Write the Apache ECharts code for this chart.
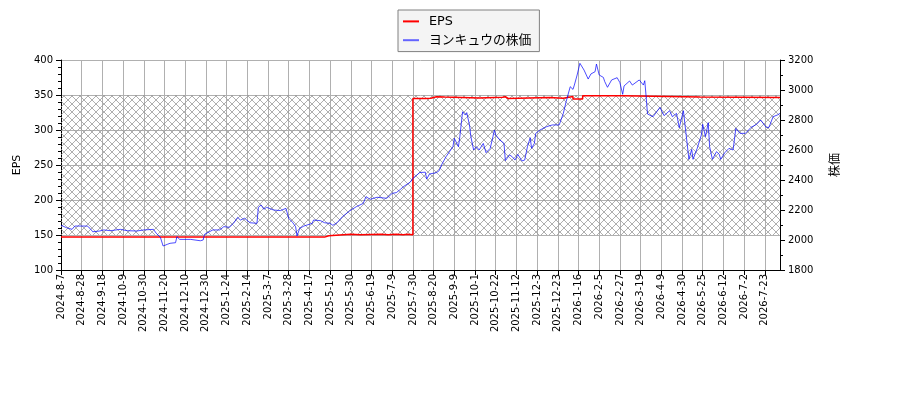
<!DOCTYPE html>
<html>
<head>
<meta charset="utf-8">
<script src="https://cdn.jsdelivr.net/npm/echarts@6/dist/echarts.min.js"></script>
<style>
  html, body {margin: 0; padding: 0; background: #fff;}
  #chart {width: 900px; height: 400px;}
</style>
</head>
<body>
<div id="chart"></div>
<script>
// x軸ラベル (15営業日ごと)
var dateLabels = [
    '2024-8-7', '2024-8-28', '2024-9-18', '2024-10-9', '2024-10-30',
    '2024-11-20', '2024-12-10', '2024-12-30', '2025-1-24', '2025-2-14',
    '2025-3-7', '2025-3-28', '2025-4-17', '2025-5-12', '2025-5-30',
    '2025-6-19', '2025-7-9', '2025-7-30', '2025-8-20', '2025-9-9',
    '2025-10-1', '2025-10-22', '2025-11-12', '2025-12-3', '2025-12-23',
    '2026-1-16', '2026-2-5', '2026-2-27', '2026-3-19', '2026-4-9',
    '2026-4-30', '2026-5-25', '2026-6-12', '2026-7-2', '2026-7-23'
];
var labelStep = 15;
var lastIndex = 521;

// EPS [営業日index, 値]
var epsData = [
    [0, 147], [191, 149], [194, 151], [210, 150.3], [217, 151], [232, 150.3],
    [237, 151], [243, 150.3], [248, 151], [251, 150.3], [255, 345], [264, 345.3],
    [268, 347.6], [272, 347], [278, 345.7], [303, 346.7], [320, 347.6], [322, 345],
    [324, 346.5], [354, 345.5], [364, 348], [371, 344.3], [378, 349], [407, 347],
    [463, 346.5], [521, 346.5]
];

// 株価 [営業日index, 値]
var priceData = [
    [0, 2098], [4, 2082], [8, 2071], [10, 2093], [19, 2093], [21, 2078], [23, 2055],
    [28, 2060], [31, 2067], [36, 2062], [43, 2071], [48, 2062], [55, 2060], [60, 2067],
    [67, 2071], [69, 2045], [72, 2018], [74, 1960], [77, 1971], [79, 1978], [83, 1982],
    [84, 2022], [86, 2004], [94, 2004], [101, 1995], [103, 2000], [104, 2038], [110, 2067],
    [115, 2067], [118, 2089], [122, 2085], [125, 2111], [128, 2151], [130, 2133], [133, 2145],
    [137, 2115], [142, 2111], [143, 2218], [145, 2233], [147, 2205], [149, 2218], [154, 2200],
    [159, 2196], [163, 2211], [165, 2145], [168, 2115], [170, 2089], [171, 2027], [173, 2078],
    [176, 2093], [182, 2111], [183, 2133], [188, 2129], [191, 2115], [195, 2111], [197, 2098],
    [200, 2115], [204, 2156], [209, 2193], [214, 2222], [219, 2244], [221, 2289], [224, 2271],
    [229, 2285], [236, 2278], [240, 2311], [243, 2316], [246, 2338], [248, 2355], [253, 2385],
    [255, 2411], [260, 2450], [264, 2452], [265, 2406], [267, 2440], [272, 2449], [274, 2462],
    [276, 2505], [279, 2555], [284, 2622], [285, 2678], [288, 2622], [289, 2689], [291, 2855],
    [293, 2833], [294, 2849], [296, 2767], [297, 2689], [299, 2600], [301, 2622], [303, 2600],
    [306, 2644], [308, 2582], [311, 2611], [313, 2689], [314, 2733], [315, 2700], [318, 2667],
    [321, 2644], [322, 2529], [325, 2567], [327, 2555], [329, 2533], [331, 2571], [334, 2527],
    [336, 2533], [338, 2622], [340, 2682], [341, 2611], [343, 2644], [344, 2711], [347, 2733],
    [352, 2756], [356, 2767], [361, 2767], [364, 2844], [366, 2922], [369, 3022], [371, 3004],
    [372, 3033], [374, 3100], [376, 3178], [377, 3182], [379, 3133], [382, 3073], [384, 3107],
    [387, 3122], [388, 3173], [390, 3100], [393, 3084], [394, 3056], [396, 3018], [399, 3067],
    [403, 3082], [405, 3049], [407, 2971], [408, 3027], [412, 3060], [414, 3033], [419, 3067],
    [422, 3033], [423, 3062], [424, 2956], [425, 2840], [429, 2822], [434, 2884], [437, 2829],
    [441, 2862], [443, 2822], [446, 2844], [448, 2749], [451, 2862], [453, 2700], [455, 2538],
    [457, 2604], [458, 2538], [461, 2611], [464, 2700], [465, 2771], [467, 2689], [469, 2782],
    [470, 2622], [472, 2538], [475, 2589], [477, 2571], [478, 2538], [481, 2582], [484, 2611],
    [487, 2600], [489, 2744], [492, 2711], [496, 2711], [500, 2751], [504, 2771], [507, 2800],
    [511, 2751], [513, 2751], [516, 2822], [519, 2833], [521, 2844]
];

// EPSの範囲 (ハッチング)
var bandRange = [150, 350];

// クロスハッチのパターン
function makeHatch() {
    var c = document.createElement('canvas');
    c.width = 8;
    c.height = 8;
    var ctx = c.getContext('2d');
    ctx.strokeStyle = '#9a9a9a';
    ctx.lineWidth = 0.8;
    ctx.beginPath();
    ctx.moveTo(0, 0); ctx.lineTo(8, 8);
    ctx.moveTo(0, 8); ctx.lineTo(8, 0);
    ctx.stroke();
    return c;
}

var font = 'DejaVu Sans, Noto Sans CJK JP, sans-serif';
var black = '#000';
var gridColor = '#b0b0b0';

var myChart = echarts.init(document.getElementById('chart'), null, {renderer: 'canvas'});

myChart.setOption({
    animation: false,
    textStyle: {fontFamily: font},
    grid: {left: 61, right: 120, top: 60, bottom: 130},
    legend: {
        orient: 'vertical',
        left: 398,
        top: 10,
        padding: [5, 8, 5, 5],
        itemGap: 6,
        itemWidth: 16,
        itemHeight: 2,
        icon: 'rect',
        backgroundColor: '#f4f4f4',
        borderColor: '#808080',
        borderWidth: 1,
        borderRadius: 0,
        textStyle: {fontSize: 12.8, color: black, fontFamily: font, padding: [0, 0, 0, 5]},
        data: ['EPS', 'ヨンキュウの株価']
    },
    xAxis: {
        type: 'value',
        min: 0,
        max: lastIndex,
        interval: labelStep,
        axisLine: {show: true, lineStyle: {color: black}},
        axisTick: {show: true, length: 5, lineStyle: {color: black}},
        axisLabel: {
            rotate: 90,
            fontSize: 10,
            color: black,
            margin: 4,
            showMaxLabel: false,
            formatter: function(v) {
                if (v % labelStep !== 0) {
                    return '';
                }
                return dateLabels[v / labelStep] || '';
            }
        },
        splitLine: {show: true, lineStyle: {color: gridColor, width: 1}}
    },
    yAxis: [
        {
            type: 'value',
            min: 100,
            max: 400,
            interval: 50,
            name: 'EPS',
            nameLocation: 'middle',
            nameRotate: 90,
            nameGap: 38,
            nameTextStyle: {fontSize: 11, color: black},
            axisLine: {show: true, lineStyle: {color: black}},
            axisTick: {show: true, length: 5, lineStyle: {color: black}},
            minorTick: {show: true, splitNumber: 5, length: 3, lineStyle: {color: black}},
            axisLabel: {fontSize: 10, color: black, margin: 8},
            splitLine: {show: true, lineStyle: {color: gridColor, width: 1}}
        },
        {
            type: 'value',
            position: 'right',
            min: 1800,
            max: 3200,
            interval: 200,
            name: '株価',
            nameLocation: 'middle',
            nameRotate: 90,
            nameGap: 50,
            nameTextStyle: {fontSize: 12, color: black},
            axisLine: {show: true, lineStyle: {color: black}},
            axisTick: {show: true, length: 5, lineStyle: {color: black}},
            minorTick: {show: true, splitNumber: 2, length: 3, lineStyle: {color: black}},
            axisLabel: {
                fontSize: 10,
                color: black,
                margin: 8,
                formatter: function(v) { return String(v); }
            },
            splitLine: {show: false}
        }
    ],
    series: [
        {
            name: 'EPS',
            type: 'line',
            yAxisIndex: 0,
            step: 'end',
            symbol: 'none',
            data: epsData,
            color: '#ff0000',
            lineStyle: {color: '#ff0000', width: 1.5},
            markArea: {
                silent: true,
                label: {show: false},
                itemStyle: {
                    color: {image: makeHatch(), repeat: 'repeat'}
                },
                data: [[
                    {xAxis: 0, yAxis: bandRange[0]},
                    {xAxis: lastIndex, yAxis: bandRange[1]}
                ]]
            }
        },
        {
            name: 'ヨンキュウの株価',
            type: 'line',
            yAxisIndex: 1,
            symbol: 'none',
            data: priceData,
            color: '#6464ff',
            lineStyle: {color: 'rgba(0, 0, 255, 0.7)', width: 1}
        }
    ]
});
</script>
</body>
</html>
